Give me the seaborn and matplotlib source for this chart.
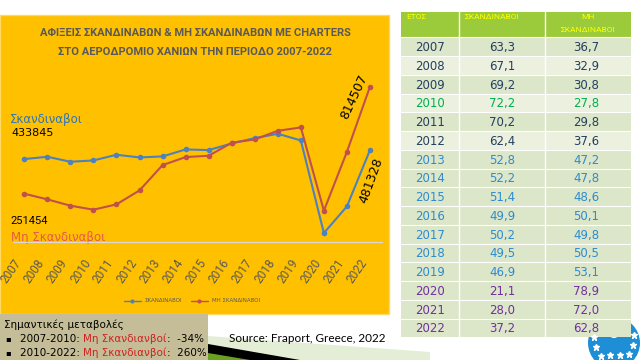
import pandas as pd
import matplotlib
matplotlib.use("Agg")
import matplotlib.pyplot as plt
from matplotlib.patches import Rectangle, Polygon, Circle
from matplotlib.lines import Line2D
import seaborn as sns

# data
years = list(range(2007, 2023))
scandi = [433845, 446000, 419700, 426700, 456500, 442500, 447800, 484600,
          481100, 516100, 544200, 567000, 531900, 44500, 184900, 481328]
non_scandi = [251454, 221700, 188400, 167400, 195400, 269000, 402200, 444300,
              451300, 519600, 537200, 582700, 600300, 162000, 472300, 814507]

table_years = [str(y) for y in years]
table_scandi = ["63,3", "67,1", "69,2", "72,2", "70,2", "62,4", "52,8", "52,2",
                "51,4", "49,9", "50,2", "49,5", "46,9", "21,1", "28,0", "37,2"]
table_non = ["36,7", "32,9", "30,8", "27,8", "29,8", "37,6", "47,2", "47,8",
             "48,6", "50,1", "49,8", "50,5", "53,1", "78,9", "72,0", "62,8"]
row_text_colors = ["#243F60"] * 3 + ["#00B050"] + ["#243F60"] * 2 + ["#2E8BD0"] * 7 + ["#7030A0"] * 3
row_fills = ["#DCE6C9", "#EBF1DE"] * 3 + ["#DCE6C9"] * 10

blue = "#4F81BD"
red = "#C0504D"
orange = "#FFC000"
grey = "#595959"

sns.set_style("white")
plt.rcParams["font.family"] = ["DejaVu Sans"]
narrow = ["Roboto", "DejaVu Sans"]

fig = plt.figure(figsize=(6.4, 3.6), dpi=100)
fig.patch.set_facecolor("white")

# background layer in pixel coordinates
bg = fig.add_axes([0, 0, 1, 1])
bg.set_xlim(0, 640)
bg.set_ylim(360, 0)
bg.axis("off")

# orange chart panel
bg.add_patch(Rectangle((0, 15), 389, 299, facecolor=orange, edgecolor="#FFD966", lw=1))

# decorative swoosh at the bottom
bg.add_patch(Polygon([(208, 336), (430, 352), (430, 360), (208, 360)], facecolor="#E4EED6", lw=0))
bg.add_patch(Polygon([(208, 344), (300, 360), (208, 360)], facecolor="black", lw=0))
bg.add_patch(Polygon([(208, 353), (250, 360), (208, 360)], facecolor="#6AA121", lw=0))

# logo circle
bg.add_patch(Circle((614, 343), 26, facecolor="#1E8FD6", lw=0))
for dx, dy in [(-18, 4), (-13, 13), (-4, 12), (6, 12), (15, 11), (19, 2), (-20, -6), (20, -8)]:
    bg.plot(614 + dx, 343 + dy, marker="*", color="white", markersize=4.5, lw=0)
bg.add_patch(Circle((614, 332), 6, facecolor="white", lw=0))

# title
bg.text(195, 33, "ΑΦΙΞΕΙΣ ΣΚΑΝΔΙΝΑΒΩΝ & ΜΗ ΣΚΑΝΔΙΝΑΒΩΝ ΜΕ CHARTERS", ha="center", va="center",
        fontsize=8, fontweight="bold", color=grey, family=narrow)
bg.text(195, 52, "ΣΤΟ ΑΕΡΟΔΡΟΜΙΟ ΧΑΝΙΩΝ ΤΗΝ ΠΕΡΙΟΔΟ 2007-2022", ha="center", va="center",
        fontsize=8, fontweight="bold", color=grey, family=narrow)

# table
col_edges = [401, 459, 545, 631]
row_h = 18.75
bg.add_patch(Rectangle((401, 12), 230, 25.3, facecolor="#9BCB3B", lw=0))
for i in range(len(table_years)):
    y0 = 37.3 + i * row_h
    bg.add_patch(Rectangle((401, y0), 230, row_h, facecolor=row_fills[i], lw=0))
    yc = y0 + row_h / 2 + 1
    c = row_text_colors[i]
    bg.text(430, yc, table_years[i], ha="center", va="center", fontsize=8.5, color=c)
    bg.text(502, yc, table_scandi[i], ha="center", va="center", fontsize=8.5, color=c)
    bg.text(586, yc, table_non[i], ha="center", va="center", fontsize=8.5, color=c)
    bg.plot([401, 631], [y0, y0], color="white", lw=0.8)
for x in col_edges[1:-1]:
    bg.plot([x, x], [12, 337.3], color="white", lw=1)
bg.text(406, 17, "ΕΤΟΣ", ha="left", va="center", fontsize=6, color="#FFFF00", family=narrow)
bg.text(465, 17, "ΣΚΑΝΔΙΝΑΒΟΙ", ha="left", va="center", fontsize=6, color="#FFFF00", family=narrow)
bg.text(588, 17, "ΜΗ", ha="center", va="center", fontsize=6, color="#FFFF00", family=narrow)
bg.text(588, 30, "ΣΚΑΝΔΙΝΑΒΟΙ", ha="center", va="center", fontsize=6, color="#FFFF00", family=narrow)

# notes box
bg.add_patch(Rectangle((0, 314), 208, 46, facecolor="#C4BD97", lw=0))
bg.text(4, 325, "Σημαντικές μεταβολές", ha="left", va="center", fontsize=7.5, color="black")
for yy, period, change in [(339, "2007-2010: ", "  -34%"), (353, "2010-2022: ", "  260%")]:
    bg.text(5, yy, "▪", ha="left", va="center", fontsize=6, color="black")
    t1 = bg.text(20, yy, period, ha="left", va="center", fontsize=7.5, color="black")
    t2 = bg.annotate("Μη Σκανδιανβοί", xy=(1, 0), xycoords=t1, va="bottom", ha="left",
                     fontsize=7.5, color="#D02020")
    bg.annotate(":" + change, xy=(1, 0), xycoords=t2, va="bottom", ha="left",
                fontsize=7.5, color="black")

bg.text(229, 338, "Source: Fraport, Greece, 2022", ha="left", va="center", fontsize=8.5,
        color="black", family=["Lato", "DejaVu Sans"])

# line chart
df = pd.DataFrame({
    "year": years * 2,
    "arrivals": scandi + non_scandi,
    "group": ["ΣΚΑΝΔΙΝΑΒΟΙ"] * len(years) + ["ΜΗ ΣΚΑΝΔΙΝΑΒΟΙ"] * len(years),
})
ax = fig.add_axes([12.8 / 640, (360 - 241.5) / 360, 368.7 / 640, 171 / 360])
ax.set_facecolor("none")
sns.lineplot(data=df, x="year", y="arrivals", hue="group",
             palette={"ΣΚΑΝΔΙΝΑΒΟΙ": blue, "ΜΗ ΣΚΑΝΔΙΝΑΒΟΙ": red},
             marker="o", markersize=4, markeredgewidth=0, linewidth=1.5,
             legend=False, ax=ax)
ax.set_xlim(2006.5, 2022.5)
ax.set_ylim(0, 900000)
ax.set_xticks(years)
ax.set_xticklabels([str(y) for y in years], rotation=55, ha="right", va="top",
                   fontsize=8.5, color=grey, family=narrow)
ax.tick_params(axis="x", length=0, pad=11)
ax.set_yticks([])
ax.set_xlabel("")
ax.set_ylabel("")
for s in ["top", "right", "left"]:
    ax.spines[s].set_visible(False)
ax.spines["bottom"].set_color("#D9D9D9")
ax.spines["bottom"].set_linewidth(0.8)
ax.grid(False)

# series labels
bg.text(10, 120, "Σκανδιναβοι", ha="left", va="center", fontsize=8.5, color="#2E75B6")
bg.text(11, 133, f"{scandi[0]}", ha="left", va="center", fontsize=8, color="black")
bg.text(10, 221, f"{non_scandi[0]}", ha="left", va="center", fontsize=8, color="black",
        family=narrow)
bg.text(11, 237, "Μη Σκανδιναβοι", ha="left", va="center", fontsize=8.5, color="#E8584A",
        bbox=dict(facecolor=orange, edgecolor="none", pad=1.5), zorder=5)
bg.set_zorder(0)
ax.set_zorder(1)
ax.annotate(f"{non_scandi[-1]}", xy=(years[-1], non_scandi[-1]), xytext=(-16, -10),
            textcoords="offset pixels", rotation=65, ha="center", va="center",
            fontsize=9, color="black")
ax.annotate(f"{scandi[-1]}", xy=(years[-1], scandi[-1]), xytext=(1, -30),
            textcoords="offset pixels", rotation=70, ha="center", va="center",
            fontsize=9, color="black")

# small legend
handles = [Line2D([0], [0], color=blue, marker="o", markersize=2, lw=1),
           Line2D([0], [0], color=red, marker="o", markersize=2, lw=1)]
fig.legend(handles, ["ΣΚΑΝΔΙΝΑΒΟΙ", "ΜΗ ΣΚΑΝΔΙΝΑΒΟΙ"], loc="center",
           bbox_to_anchor=(192 / 640, 1 - 301 / 360), ncol=2, fontsize=4,
           frameon=False, handlelength=3, columnspacing=1.5, labelcolor=grey)

fig.savefig("out.png", dpi=100)
